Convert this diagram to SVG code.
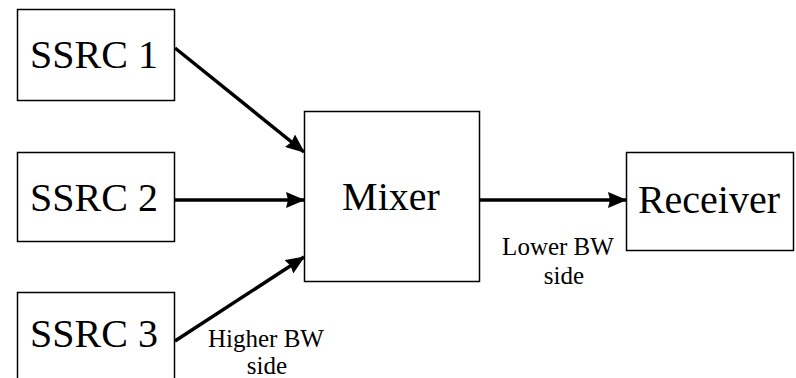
<svg xmlns="http://www.w3.org/2000/svg" width="796" height="378" viewBox="0 0 796 378">
<style>
.box{fill:#fff;stroke:#000;stroke-width:1.5}
.t{font-family:"Liberation Serif","Times New Roman",serif;font-size:40px;fill:#000;text-anchor:middle}
.l{font-family:"Liberation Serif","Times New Roman",serif;font-size:25px;fill:#000;text-anchor:middle}
.c{stroke:#000;stroke-width:3.5;fill:none;marker-end:url(#ah)}
</style>
<defs>
<marker id="ah" viewBox="0 0 19 16" refX="18" refY="8" markerWidth="19" markerHeight="16" markerUnits="userSpaceOnUse" orient="auto">
<path d="M0,0 L19,8 L0,16 L2,8 z" fill="#000"/>
</marker>
</defs>
<rect width="796" height="378" fill="#fff"/>
<g id="ssrc1"><rect class="box" x="17.5" y="9.5" width="157" height="91"/><text class="t" x="94" y="68">SSRC 1</text></g>
<g id="ssrc2"><rect class="box" x="17.5" y="152.5" width="157" height="89"/><text class="t" x="94" y="211">SSRC 2</text></g>
<g id="ssrc3"><rect class="box" x="17.5" y="292.5" width="157" height="100"/><text class="t" x="94" y="347">SSRC 3</text></g>
<g id="mixer"><rect class="box" x="304.5" y="111.5" width="175" height="170"/><text class="t" x="391" y="210">Mixer</text></g>
<g id="receiver"><rect class="box" x="626.5" y="152.5" width="167" height="98"/><text class="t" x="709" y="213">Receiver</text></g>
<g id="connectors">
<line class="c" x1="175" y1="48" x2="304" y2="152"/>
<line class="c" x1="175" y1="200" x2="304" y2="200"/>
<line class="c" x1="175" y1="341" x2="304" y2="257"/>
<line class="c" x1="480" y1="200" x2="626" y2="200"/>
</g>
<g id="labels">
<text class="l" x="266" y="347">Higher BW</text>
<text class="l" x="267" y="374">side</text>
<text class="l" x="558" y="255">Lower BW</text>
<text class="l" x="564" y="284">side</text>
</g>
</svg>
